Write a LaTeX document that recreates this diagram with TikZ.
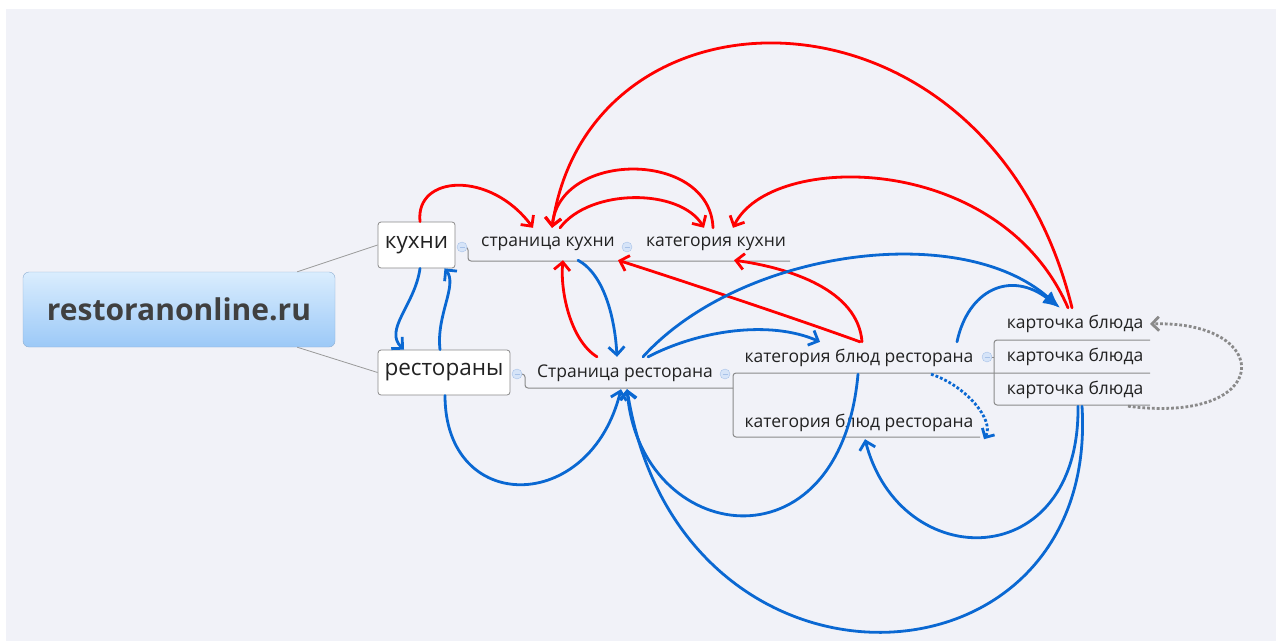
\documentclass[tikz,border=0pt]{standalone}
\usepackage{fontspec}
\setmainfont{Open Sans}
\usetikzlibrary{arrows.meta,calc}
\definecolor{bgc}{HTML}{F1F2F8}
\definecolor{txt}{HTML}{222222}
\definecolor{rootxt}{HTML}{404040}
\definecolor{bl}{HTML}{0A68D2}
\definecolor{rd}{HTML}{FF0000}
\definecolor{gl}{HTML}{8A8A8A}
\definecolor{lnk}{HTML}{999999}
\definecolor{roottop}{HTML}{DAEDFE}
\definecolor{rootbot}{HTML}{9CC9F7}
\definecolor{rootbd}{HTML}{8FAFD2}
\definecolor{colfill}{HTML}{D6E4F8}
\definecolor{coldraw}{HTML}{A8C2E8}
\begin{document}
\begin{tikzpicture}[x=1pt,y=-1pt,
  topic/.style={font=\fontsize{17.5}{20}\selectfont, text=txt, inner sep=0pt, minimum height=32pt, anchor=center},
  mainbox/.style={draw=gl, fill=white, rounded corners=3pt, line width=0.8pt, font=\fontsize{22.5}{26}\selectfont, text=txt, inner sep=0pt},
  branch/.style={draw=gl, line width=1pt, rounded corners=3pt},
  collapse/.style={circle, draw=coldraw, fill=colfill, minimum size=10pt, inner sep=0pt},
  rarr/.style={draw=rd, line width=2.8pt, line cap=round, line join=round, -{Straight Barb[length=8pt,width=16pt]}},
  barr/.style={draw=bl, line width=2.8pt, line cap=round, line join=round, -{Straight Barb[length=8pt,width=16pt]}},
  bigbarr/.style={draw=bl, line width=2.8pt, line cap=round, -{Latex[length=17pt,width=14pt]}},
  dotb/.style={draw=bl, line width=2.8pt, dotted, -{Straight Barb[length=7pt,width=14pt]}},
  dotg/.style={draw=gl, line width=2.8pt, dotted, -{Straight Barb[length=7pt,width=14pt]}}
]
\useasboundingbox (0,0) rectangle (1276,641);
\fill[white] (0,0) rectangle (1276,641);
\fill[bgc] (6,9) rectangle (1276,641);

% root
\node[draw=rootbd, rounded corners=6pt, top color=roottop, bottom color=rootbot,
      minimum width=312pt, minimum height=75pt, inner sep=0pt,
      font=\bfseries\fontsize{30}{34}\selectfont, text=rootxt] (root) at (179,309.5) {restoranonline.ru};

% main children
\node[mainbox, minimum width=77pt, minimum height=46pt] (kux) at (416.5,245) {кухни};
\node[mainbox, minimum width=132pt, minimum height=45pt] (rest) at (444,372.5) {рестораны};

\draw[lnk, line width=0.8pt] ([xshift=-38pt]root.north east) -- (kux.west);
\draw[lnk, line width=0.8pt] ([xshift=-38pt]root.south east) -- (rest.west);

% topics
\node[topic] (sk) at (548,244) {страница кухни};
\node[topic] (kk) at (716,244) {категория кухни};
\node[topic] (sr) at (625,373) {Страница ресторана};
\node[topic] (kbr1) at (859,358) {категория блюд ресторана};
\node[topic] (kbr2) at (859,423) {категория блюд ресторана};
\node[topic] (kb1) at (1075,324) {карточка блюда};
\node[topic] (kb2) at (1075,357) {карточка блюда};
\node[topic] (kb3) at (1075,390) {карточка блюда};

% branch lines
\draw[branch] (466,247) -- (468,247) -- (468,261) -- (790,261);
\draw[branch] (521,374) -- (525,374) -- (525,388) -- (733,388);
\draw[branch] (1150,373) -- (733,373) -- (733,437) -- (980,437);
\draw[branch] (991,357) -- (994,357);
\draw[branch] (1150,340) -- (994,340) -- (994,405) -- (1150,405);

% collapse markers
\foreach \p/\n in {{(462,247)}/c1,{(517,374)}/c2,{(627,247)}/c3,{(725,374)}/c4,{(987,357)}/c5}{
  \node[collapse] (\n) at \p {};
  \draw[coldraw, line width=0.7pt] ([xshift=-2.5pt]\n.center) -- ([xshift=2.5pt]\n.center);
}

% red connectors
\draw[rarr] ([xshift=3.5pt]kux.north) .. controls (415,175) and (490,170) .. ([xshift=-15pt]sk.north);
\draw[rarr] ([xshift=12pt]sk.north) .. controls (590,188) and (680,188) .. ([xshift=-12pt]kk.north);
\draw[rarr] ([xshift=-3pt]kk.north) .. controls (710,150) and (560,150) .. ([xshift=4pt]sk.north);
\draw[rarr] ([xshift=-3pt]kb1.north) .. controls (989,-30) and (590,-30) .. ([xshift=4pt]sk.north);
\draw[rarr] ([xshift=-7pt]kb1.north) .. controls (1000,151) and (770,151) .. ([xshift=17pt]kk.north);
\draw[rarr] ([xshift=3pt]kbr1.north) .. controls (858,290) and (790,268) .. ([xshift=18pt]kk.south);
\draw[rarr] ([xshift=1pt]kbr1.north) .. controls (800,320) and (680,280) .. ([xshift=70pt]sk.south);
\draw[rarr] ([xshift=-28pt]sr.north) .. controls (570,340) and (560,290) .. ([xshift=15pt]sk.south);

% blue connectors
\draw[barr] ([xshift=3.5pt]kux.south) .. controls (415,305) and (383,330) .. ([xshift=-40pt]rest.north);
\draw[barr] ([xshift=-4pt]rest.north) .. controls (436,315) and (458,285) .. ([xshift=28pt]kux.south);
\draw[barr] ([xshift=1pt]rest.south) .. controls (445,515) and (590,515) .. ([xshift=-4pt]sr.south);
\draw[barr] ([xshift=30pt]sk.south) .. controls (605,275) and (615,320) .. ([xshift=-8pt]sr.north);
\draw[bigbarr] ([xshift=18pt]sr.north) .. controls (740,250) and (960,220) .. ([xshift=-15pt]kb1.north);
\draw[bigbarr] ([xshift=98pt]kbr1.north) .. controls (968,290) and (1010,270) .. ([xshift=-15pt]kb1.north);
\draw[barr] ([xshift=23pt]sr.north) .. controls (700,330) and (770,320) .. ([xshift=-39pt]kbr1.north);
\draw[barr] ([xshift=-1pt]kbr1.south) .. controls (840,575) and (640,545) .. ([xshift=2pt]sr.south);
\draw[barr] ([xshift=3pt]kb3.south) .. controls (1080,575) and (900,575) .. ([xshift=6pt]kbr2.south);
\draw[barr] ([xshift=7pt]kb3.south) .. controls (1100,700) and (680,720) .. ([xshift=2pt]sr.south);

% dotted connectors
\draw[dotb] ([xshift=72pt]kbr1.south) .. controls (965,385) and (995,420) .. ([xshift=125pt]kbr2.south);
\draw[dotg] ([xshift=53pt]kb3.south) .. controls (1275,425) and (1275,320) .. ([xshift=75pt]kb1.center);
\end{tikzpicture}
\end{document}
